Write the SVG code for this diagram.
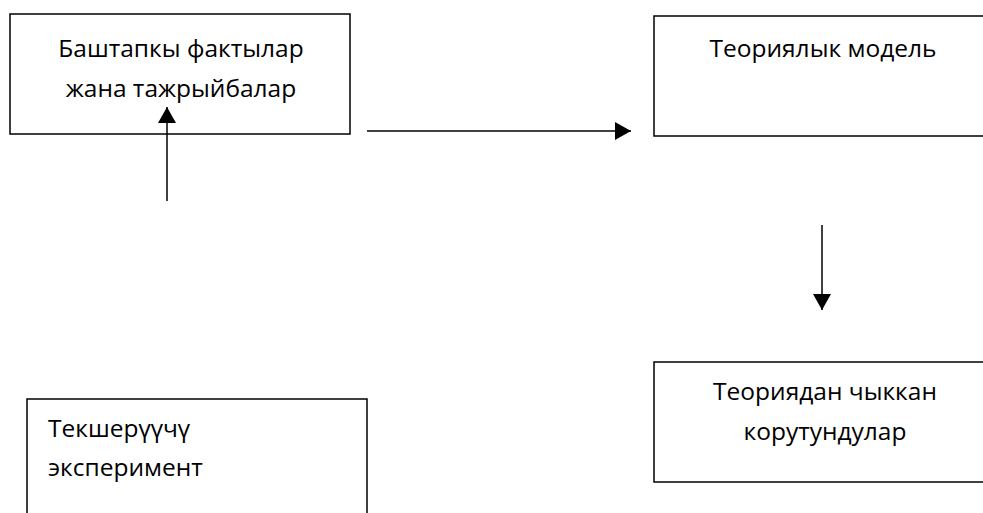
<svg xmlns="http://www.w3.org/2000/svg" width="983" height="513" viewBox="0 0 983 513">
<defs>
<style>
.box{fill:#fff;stroke:#000;stroke-width:1.5}
.t{font-family:"Open Sans","Noto Sans","DejaVu Sans",sans-serif;font-size:24.5px;fill:#000}
.c{text-anchor:middle}
.ln{stroke:#000;stroke-width:1.5;fill:none}
</style>
<marker id="ah" markerWidth="18" markerHeight="18" viewBox="0 0 18 18" refX="16" refY="9" orient="auto" markerUnits="userSpaceOnUse">
<path d="M0,0 L16,9 L0,18 Z" fill="#000"/>
</marker>
</defs>
<rect width="983" height="513" fill="#fff"/>
<g id="n1">
<rect class="box" x="10" y="14" width="340" height="120"/>
<text class="t c" x="181" y="57">Баштапкы фактылар</text>
<text class="t c" x="181" y="97">жана тажрыйбалар</text>
</g>
<g id="n2">
<rect class="box" x="654" y="16" width="340" height="120"/>
<text class="t c" x="823" y="57">Теориялык модель</text>
</g>
<g id="n3">
<rect class="box" x="654" y="362" width="340" height="120"/>
<text class="t c" x="825" y="400">Теориядан чыккан</text>
<text class="t c" x="825" y="440">корутундулар</text>
</g>
<g id="n4">
<rect class="box" x="27" y="399" width="340" height="130"/>
<text class="t" x="48" y="437">Текшерүүчү</text>
<text class="t" x="48" y="476">эксперимент</text>
</g>
<g id="connectors">
<line class="ln" x1="367" y1="131" x2="631" y2="131" marker-end="url(#ah)"/>
<line class="ln" x1="822" y1="225" x2="822" y2="310" marker-end="url(#ah)"/>
<line class="ln" x1="167" y1="201" x2="167" y2="107" marker-end="url(#ah)"/>
</g>
</svg>
